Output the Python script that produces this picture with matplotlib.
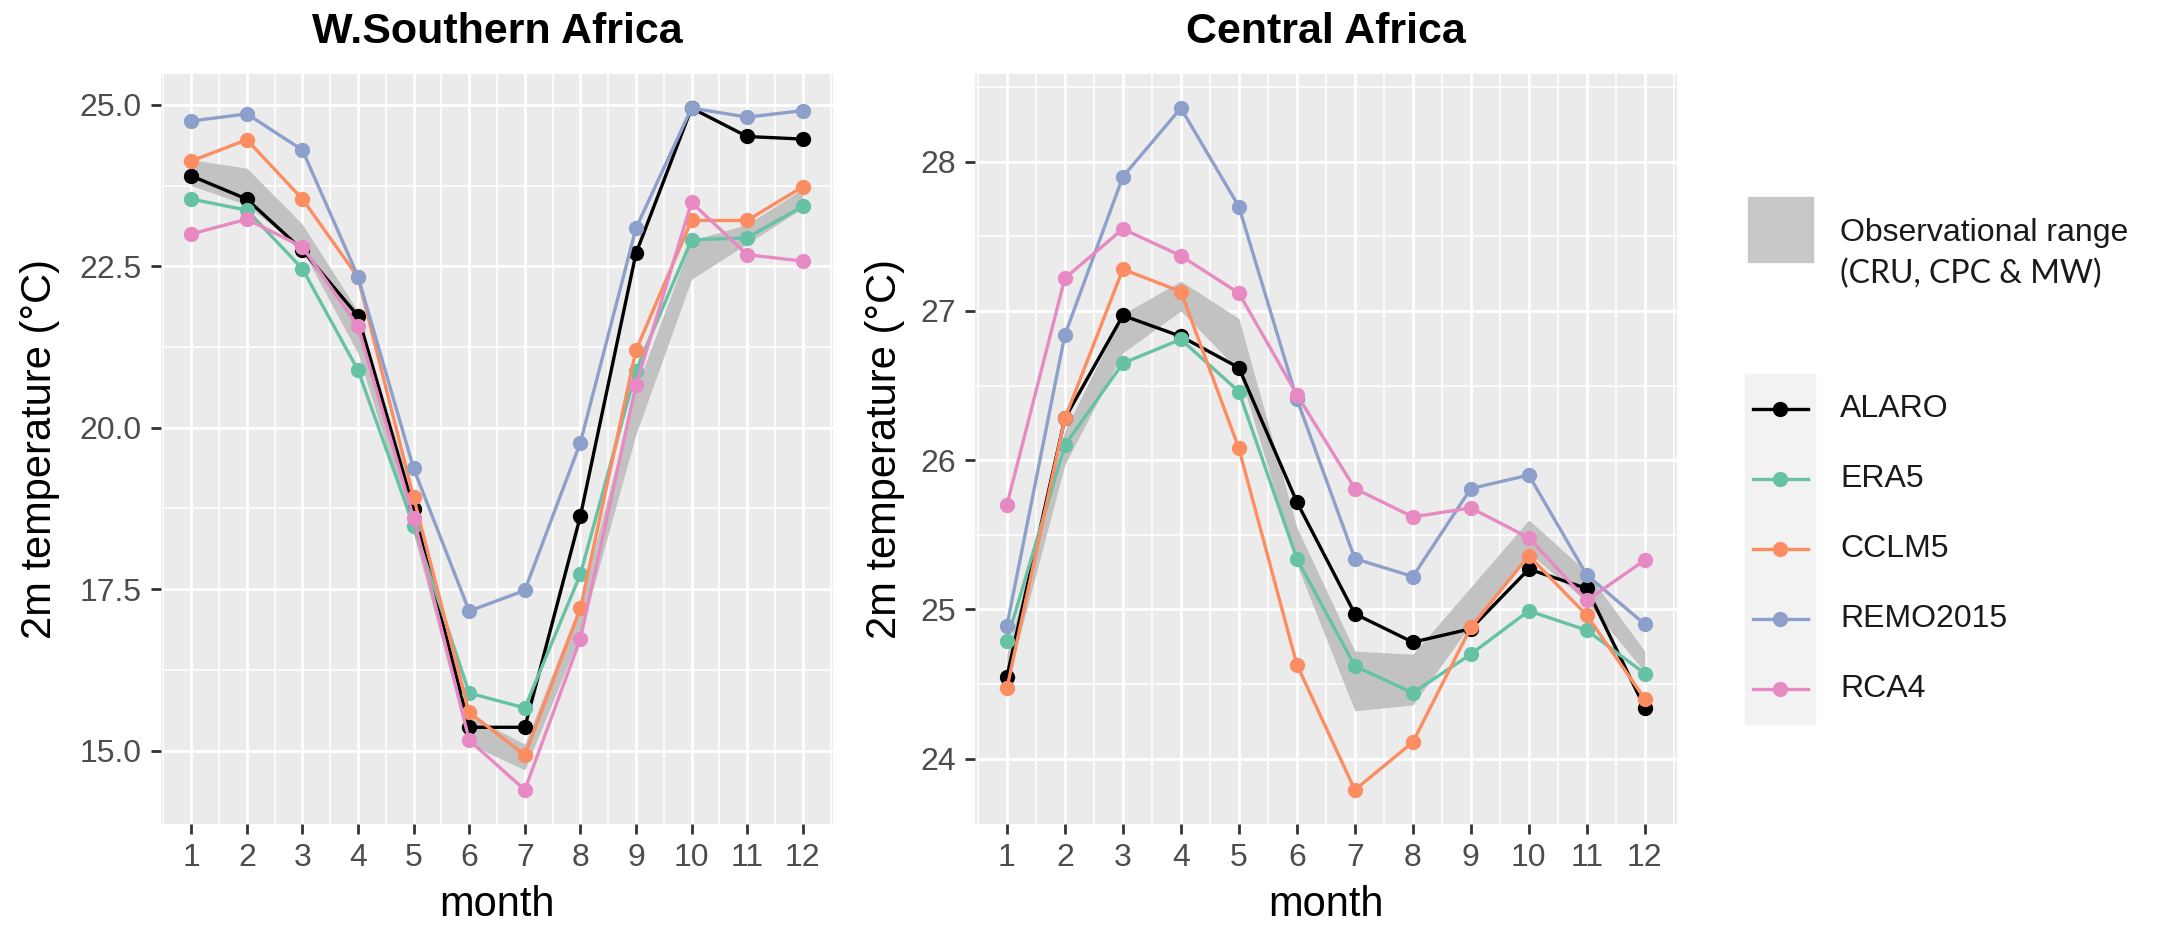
import matplotlib
matplotlib.use("Agg")
import matplotlib.pyplot as plt
import numpy as np
from matplotlib.patches import Rectangle
from matplotlib.lines import Line2D

plt.rcParams['font.family'] = ['Liberation Sans', 'DejaVu Sans']

# data
months = np.arange(1, 13)
models = ["ALARO", "ERA5", "CCLM5", "REMO2015", "RCA4"]
colors = ["#000000", "#66C2A5", "#FC8D62", "#8DA0CB", "#E78AC3"]

# W.Southern Africa
wsa_alaro = [23.90, 23.54, 22.75, 21.73, 18.74, 15.36, 15.36, 18.63, 22.70, 24.95, 24.51, 24.47]
wsa_era5 = [23.54, 23.37, 22.46, 20.89, 18.48, 15.89, 15.66, 17.73, 20.88, 22.91, 22.94, 23.43]
wsa_cclm5 = [24.13, 24.46, 23.54, 22.33, 18.92, 15.59, 14.93, 17.20, 21.20, 23.21, 23.21, 23.73]
wsa_remo = [24.75, 24.86, 24.30, 22.34, 19.37, 17.16, 17.48, 19.77, 23.09, 24.95, 24.81, 24.91]
wsa_rca4 = [23.00, 23.23, 22.80, 21.57, 18.60, 15.16, 14.39, 16.73, 20.66, 23.49, 22.68, 22.58]
wsa_obs_lo = [23.75, 23.45, 22.75, 21.15, 18.35, 15.10, 14.70, 16.80, 19.90, 22.30, 22.85, 23.40]
wsa_obs_hi = [24.15, 24.02, 23.15, 21.80, 18.90, 15.55, 15.10, 17.30, 20.60, 22.90, 23.15, 23.70]

# Central Africa
ca_alaro = [24.55, 26.28, 26.97, 26.83, 26.62, 25.72, 24.97, 24.78, 24.87, 25.27, 25.14, 24.34]
ca_era5 = [24.79, 26.10, 26.65, 26.81, 26.46, 25.34, 24.62, 24.44, 24.70, 24.99, 24.86, 24.57]
ca_cclm5 = [24.47, 26.28, 27.28, 27.13, 26.08, 24.63, 23.79, 24.11, 24.88, 25.36, 24.96, 24.40]
ca_remo = [24.89, 26.84, 27.90, 28.36, 27.70, 26.41, 25.34, 25.22, 25.81, 25.90, 25.23, 24.90]
ca_rca4 = [25.70, 27.22, 27.55, 27.37, 27.12, 26.44, 25.81, 25.62, 25.68, 25.48, 25.06, 25.33]
ca_obs_lo = [24.50, 25.97, 26.72, 27.00, 26.60, 25.30, 24.32, 24.36, 24.90, 25.38, 25.05, 24.58]
ca_obs_hi = [24.70, 26.20, 26.98, 27.20, 26.95, 25.55, 24.72, 24.70, 25.15, 25.60, 25.25, 24.72]

W, H = 2182, 933
fig = plt.figure(figsize=(W / 100, H / 100), dpi=100)


def make_panel(rect, title, series, lo, hi, yticks, yfmt, minor_y, ylab_x):
    ax = fig.add_axes(rect)
    ax.set_facecolor("#EBEBEB")
    for s in ax.spines.values():
        s.set_visible(False)
    ax.fill_between(months, lo, hi, color="#C2C2C2", lw=0, zorder=2)
    for vals, c in zip(series, colors):
        ax.plot(months, vals, color=c, lw=2.4, marker="o", ms=10, mec=c, zorder=3)
    allv = np.concatenate([np.ravel(series), lo, hi])
    pad = 0.05 * (allv.max() - allv.min())
    ax.set_ylim(allv.min() - pad, allv.max() + pad)
    ax.set_xlim(0.45, 12.55)
    ax.set_xticks(months)
    ax.set_xticks(np.arange(0.5, 13, 1.0), minor=True)
    ax.set_yticks(yticks)
    ax.set_yticklabels([yfmt % v for v in yticks])
    ax.set_yticks(minor_y, minor=True)
    ax.grid(which="major", color="white", lw=2.0, zorder=1)
    ax.grid(which="minor", color="white", lw=1.1, zorder=1)
    ax.set_axisbelow(True)
    ax.tick_params(which="major", length=7.5, width=2, color="#333333",
                   labelsize=23, labelcolor="#4D4D4D", pad=6)
    ax.tick_params(which="minor", length=0)
    ax.set_title(title, fontsize=31, fontweight="bold", pad=22)
    ax.set_xlabel("month", fontsize=30, va="center")
    ax.xaxis.set_label_coords(0.5, -0.108)
    ax.set_ylabel("2m temperature (°C)", fontsize=30, va="center")
    ax.yaxis.set_label_coords(ylab_x, 0.5)
    return ax


make_panel([160.7 / W, 1 - 824 / H, 672.6 / W, 750 / H], "W.Southern Africa",
           [wsa_alaro, wsa_era5, wsa_cclm5, wsa_remo, wsa_rca4], wsa_obs_lo, wsa_obs_hi,
           [15, 17.5, 20, 22.5, 25], "%.1f", [16.25, 18.75, 21.25, 23.75], -0.179)
make_panel([975 / W, 1 - 824 / H, 701.7 / W, 750 / H], "Central Africa",
           [ca_alaro, ca_era5, ca_cclm5, ca_remo, ca_rca4], ca_obs_lo, ca_obs_hi,
           [24, 25, 26, 27, 28], "%d", [24.5, 25.5, 26.5, 27.5, 28.5], -0.128)

# legend, drawn in pixel space
lax = fig.add_axes([0, 0, 1, 1])
lax.set_xlim(0, W)
lax.set_ylim(H, 0)
lax.axis("off")
lax.add_patch(Rectangle((1748, 197), 65, 65, color="#C8C8C8"))
lax.text(1840, 233, "Observational range", fontsize=23, va="center", color="#1A1A1A")
lax.text(1840, 274, "(CRU, CPC & MW)", fontsize=23, va="center", color="#1A1A1A",
         family=["Lato", "DejaVu Sans"])
lax.add_patch(Rectangle((1745, 374), 70, 350, color="#F2F2F2"))
for i, (name, c) in enumerate(zip(models, colors)):
    y = 409 + i * 70
    lax.add_line(Line2D([1753, 1808], [y, y], color=c, lw=2.4))
    lax.plot([1780], [y], marker="o", ms=10, color=c)
    lax.text(1840, y, name, fontsize=23, va="center", color="#1A1A1A")

fig.savefig("out.png", dpi=100)
